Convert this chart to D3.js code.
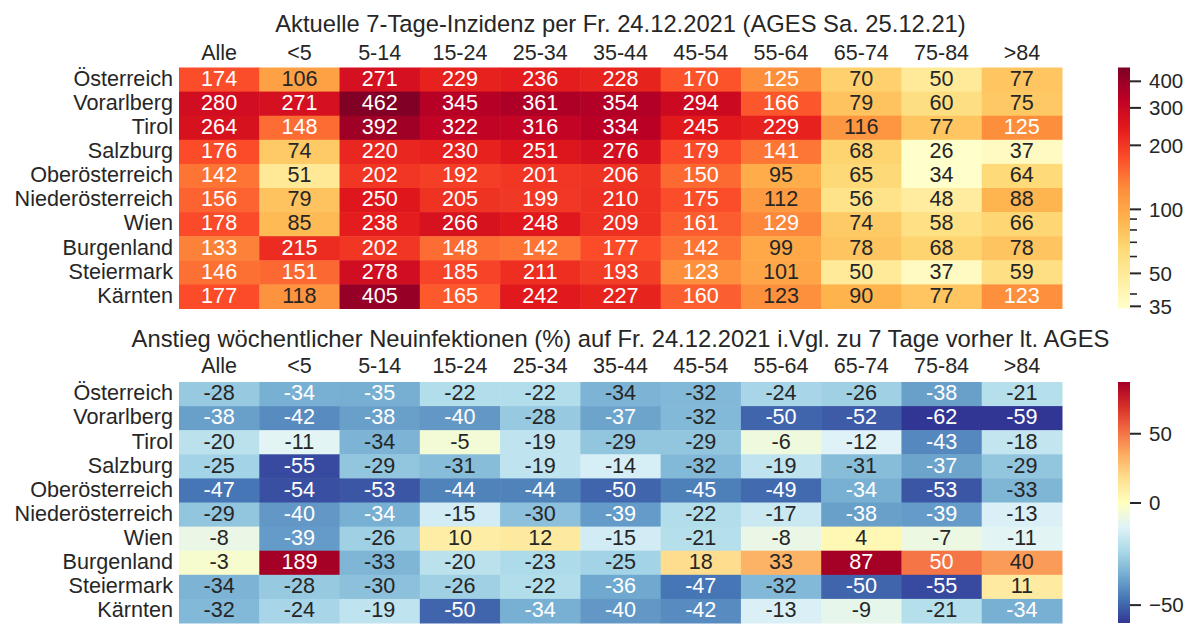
<!DOCTYPE html>
<html>
<head>
<meta charset="utf-8">
<script src="https://cdn.jsdelivr.net/npm/d3@7"></script>
<style>
  body { margin: 0; background: #fff; }
  svg { display: block; }
  text { font-family: "Liberation Sans", Arial, Helvetica, sans-serif; }
</style>
</head>
<body>
<svg id="chart" width="1200" height="638"></svg>
<script>
// ---------------- data ----------------
const regions = ["Österreich","Vorarlberg","Tirol","Salzburg","Oberösterreich","Niederösterreich","Wien","Burgenland","Steiermark","Kärnten"];
const ageGroups = ["Alle","<5","5-14","15-24","25-34","35-44","45-54","55-64","65-74","75-84",">84"];

// 7-Tage-Inzidenz
const incidence = [
  [174,106,271,229,236,228,170,125,70,50,77],
  [280,271,462,345,361,354,294,166,79,60,75],
  [264,148,392,322,316,334,245,229,116,77,125],
  [176,74,220,230,251,276,179,141,68,26,37],
  [142,51,202,192,201,206,150,95,65,34,64],
  [156,79,250,205,199,210,175,112,56,48,88],
  [178,85,238,266,248,209,161,129,74,58,66],
  [133,215,202,148,142,177,142,99,78,68,78],
  [146,151,278,185,211,193,123,101,50,37,59],
  [177,118,405,165,242,227,160,122.6,90,77,123]
];

// Anstieg wöchentlicher Neuinfektionen (%)
const change = [
  [-28,-34.4,-35,-22,-22,-33.6,-32,-24,-26,-38,-21],
  [-38,-42,-38,-40,-28,-37,-32,-50,-52,-62,-59],
  [-20,-11,-33.6,-5,-19,-29,-29,-6,-12,-43,-18],
  [-25,-55,-29,-31,-19,-14,-32,-19,-31,-37,-29],
  [-47,-54,-53,-44,-44,-50,-45,-49,-34.4,-53,-33],
  [-29,-40,-34.4,-15,-30,-39,-22,-17,-38,-39,-13],
  [-8,-39,-26,10,12,-15,-21,-8,4,-7,-11],
  [-3,189,-33,-20,-23,-25,18,33,87,50,40],
  [-33.6,-28,-30,-26,-22,-36,-47,-32,-50,-55,11],
  [-32,-24,-19,-50,-34.4,-40,-42,-13,-9,-21,-34.4]
];

const title1 = "Aktuelle 7-Tage-Inzidenz per Fr. 24.12.2021 (AGES Sa. 25.12.21)";
const title2 = "Anstieg wöchentlicher Neuinfektionen (%) auf Fr. 24.12.2021 i.Vgl. zu 7 Tage vorher lt. AGES";

const incDomain = [34, 462];
const incTicks = [35, 50, 100, 200, 300, 400];
const incMinorTicks = [40, 60, 70, 80, 90];
const chgDomain = [-59, 0, 87];
const chgTicks = [-50, 0, 50];

// colormaps (matplotlib anchors)
const YlOrRd = ["#ffffcc","#ffeda0","#fed976","#feb24c","#fd8d3c","#fc4e2a","#e31a1c","#bd0026","#800026"];
const RdYlBu_r = ["#313695","#4575b4","#74add1","#abd9e9","#e0f3f8","#ffffbf","#fee090","#fdae61","#f46d43","#d73027","#a50026"];

// ---------------- helpers ----------------
function makeCmap(anchors) {
  const cols = anchors.map(c => { const r = d3.rgb(c); return [r.r, r.g, r.b]; });
  const n = cols.length - 1;
  function at(x) {
    const p = x * n;
    let i = Math.floor(p); if (i >= n) i = n - 1;
    const f = p - i;
    return cols[i].map((v, k) => v + (cols[i + 1][k] - v) * f);
  }
  return t => {
    t = Math.max(0, Math.min(1, t));
    let idx = Math.floor(t * 256); if (idx > 255) idx = 255;
    return at(idx / 255);
  };
}
function rgbStr(c) { return `rgb(${c[0].toFixed(2)},${c[1].toFixed(2)},${c[2].toFixed(2)})`; }
function luminance(c) {
  const f = v => { v /= 255; return v <= 0.03928 ? v / 12.92 : Math.pow((v + 0.055) / 1.055, 2.4); };
  return 0.2126 * f(c[0]) + 0.7152 * f(c[1]) + 0.0722 * f(c[2]);
}

const TXT = "#262626";
const svg = d3.select("#chart");
const x = d3.scaleBand().domain(ageGroups).range([179, 1062]);
const cbX = 1118, cbW = 12;

function panel(opts) {
  const { data, y0, y1, norm, cmap, title, titleY, labelPad, axisScale, ticks, minorTicks, gradId } = opts;
  const y = d3.scaleBand().domain(regions).range([y0, y1]);
  const g = svg.append("g");

  // cells
  const cells = [];
  data.forEach((row, ri) => row.forEach((v, ci) => cells.push({ r: regions[ri], c: ageGroups[ci], v })));
  cells.forEach(d => { d.col = cmap(norm(d.v)); });

  g.selectAll("rect.cell").data(cells).join("rect")
    .attr("class", "cell")
    .attr("x", d => x(d.c)).attr("y", d => y(d.r))
    .attr("width", x.bandwidth() + 0.5).attr("height", y.bandwidth() + 0.5)
    .attr("fill", d => rgbStr(d.col));

  g.selectAll("text.ann").data(cells).join("text")
    .attr("class", "ann")
    .attr("x", d => x(d.c) + x.bandwidth() / 2)
    .attr("y", d => y(d.r) + y.bandwidth() / 2)
    .attr("dy", "0.29em")
    .attr("text-anchor", "middle")
    .attr("font-size", 21.6)
    .attr("fill", d => luminance(d.col) > 0.408 ? TXT : "#ffffff")
    .text(d => (Math.round(d.v)).toString());

  // column labels
  const ax = g.append("g").attr("transform", `translate(0,${y0})`)
    .call(d3.axisTop(x).tickSize(0).tickPadding(labelPad));
  ax.select(".domain").remove();
  ax.selectAll("text").attr("font-size", 21.5).attr("fill", TXT)
    .attr("font-family", '"Liberation Sans", Arial, sans-serif');

  // row labels
  const ay = g.append("g").attr("transform", `translate(${x.range()[0]},0)`)
    .call(d3.axisLeft(y).tickSize(0).tickPadding(6));
  ay.select(".domain").remove();
  ay.selectAll("text").attr("font-size", 21.6).attr("fill", TXT).attr("dy", "0.29em")
    .attr("font-family", '"Liberation Sans", Arial, sans-serif');

  // title
  g.append("text").attr("x", (x.range()[0] + x.range()[1]) / 2).attr("y", titleY)
    .attr("text-anchor", "middle").attr("font-size", 23.75).attr("fill", TXT).text(title);

  // colorbar gradient
  const defs = svg.append("defs");
  const grad = defs.append("linearGradient").attr("id", gradId)
    .attr("x1", 0).attr("y1", 1).attr("x2", 0).attr("y2", 0);
  d3.range(0, 257).forEach(i => {
    const t = i / 256;
    grad.append("stop").attr("offset", t).attr("stop-color", rgbStr(cmap(Math.min(t, 0.99999))));
  });
  g.append("rect").attr("x", cbX).attr("y", y0).attr("width", cbW).attr("height", y1 - y0)
    .attr("fill", `url(#${gradId})`);

  const cax = g.append("g").attr("transform", `translate(${cbX + cbW},0)`)
    .call(d3.axisRight(axisScale).tickValues(ticks).tickSize(11).tickPadding(8).tickFormat(d3.format("d")));
  cax.select(".domain").remove();
  cax.selectAll("line").attr("stroke", TXT).attr("stroke-width", 2);
  cax.selectAll("text").attr("font-size", 20.5).attr("fill", TXT).attr("dy", "0.35em")
    .attr("font-family", '"Liberation Sans", Arial, sans-serif');

  if (minorTicks) {
    const mx = g.append("g").attr("transform", `translate(${cbX + cbW},0)`)
      .call(d3.axisRight(axisScale).tickValues(minorTicks).tickSize(7).tickFormat(""));
    mx.select(".domain").remove();
    mx.selectAll("line").attr("stroke", TXT).attr("stroke-width", 1.6);
  }
}

// top panel
const incNorm = d3.scaleLog().domain(incDomain).range([0, 1]);
const incAxis = d3.scaleLog().domain(incDomain).range([308.5, 67.5]);
panel({
  data: incidence, y0: 67.5, y1: 308.5, norm: incNorm, cmap: makeCmap(YlOrRd),
  title: title1, titleY: 32, labelPad: 8, axisScale: incAxis,
  ticks: incTicks, minorTicks: incMinorTicks, gradId: "gInc"
});

// bottom panel
const chgNorm = d3.scaleLinear().domain(chgDomain).range([0, 0.5, 1]);
const chgAxis = d3.scaleLinear().domain(chgDomain).range([623, 502.5, 382]);
panel({
  data: change, y0: 382, y1: 623, norm: chgNorm, cmap: makeCmap(RdYlBu_r),
  title: title2, titleY: 347, labelPad: 9, axisScale: chgAxis,
  ticks: chgTicks, minorTicks: null, gradId: "gChg"
});
</script>
</body>
</html>
